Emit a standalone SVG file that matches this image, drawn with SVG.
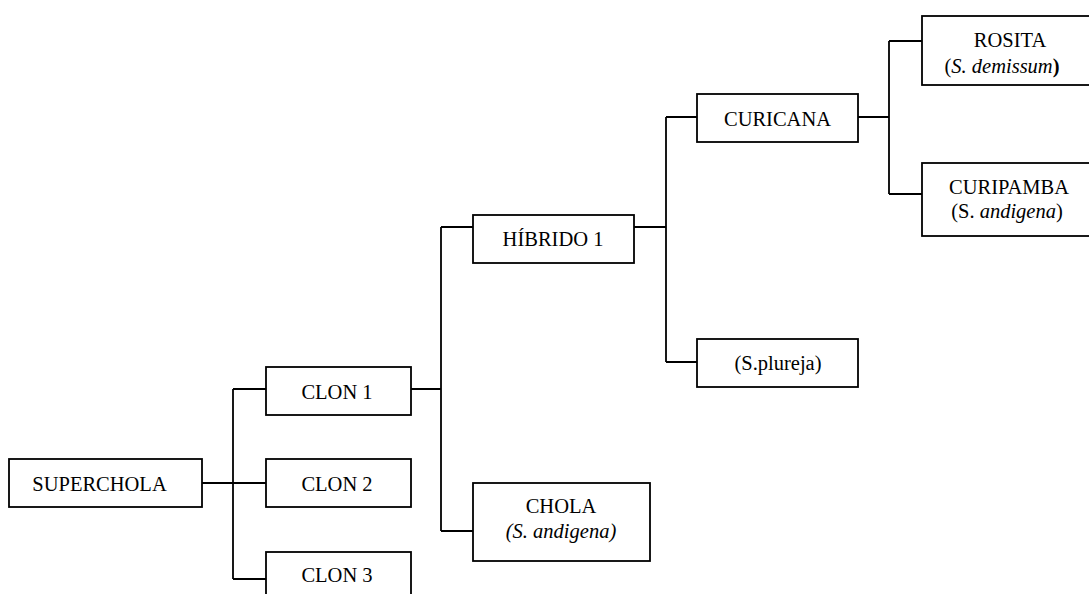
<svg xmlns="http://www.w3.org/2000/svg" width="1089" height="594" viewBox="0 0 1089 594">
<style>
.box{fill:#fff;stroke:#000;stroke-width:1.8}
.t{font-family:"Liberation Serif","Times New Roman",serif;font-size:20.5px;fill:#000;text-anchor:middle}
.i{font-style:italic}
.c{fill:none;stroke:#000;stroke-width:1.8}
</style>
<rect width="1089" height="594" fill="#fff"/>
<g id="connectors">
<path class="c" d="M202,483H266M233,389V579M233,389H266M233,579H266"/>
<path class="c" d="M411,389H441M441,227V531M441,227H473M441,531H473"/>
<path class="c" d="M634,227H666M666,117V362M666,117H697M666,362H697"/>
<path class="c" d="M858,117H889M889,41V194M889,41H922M889,194H922"/>
</g>
<g id="superchola"><rect class="box" x="9" y="459" width="193" height="48"/><text class="t" x="99.5" y="491">SUPERCHOLA</text></g>
<g id="clon1"><rect class="box" x="266" y="367" width="145" height="48"/><text class="t" x="337" y="399">CLON 1</text></g>
<g id="clon2"><rect class="box" x="266" y="459" width="145" height="48"/><text class="t" x="337" y="491">CLON 2</text></g>
<g id="clon3"><rect class="box" x="266" y="552" width="145" height="48"/><text class="t" x="337" y="582">CLON 3</text></g>
<g id="hibrido1"><rect class="box" x="473" y="215" width="161" height="48"/><text class="t" x="553" y="246">HÍBRIDO 1</text></g>
<g id="chola"><rect class="box" x="473" y="483" width="177" height="78"/><text class="t" x="561" y="513">CHOLA</text><text class="t i" x="561" y="538">(S. andigena)</text></g>
<g id="curicana"><rect class="box" x="697" y="94" width="161" height="48"/><text class="t" x="777.5" y="126">CURICANA</text></g>
<g id="splureja"><rect class="box" x="697" y="339" width="161" height="48"/><text class="t" x="778" y="370">(S.plureja)</text></g>
<g id="rosita"><rect class="box" x="922" y="16" width="180" height="69"/><text class="t" x="1010" y="47">ROSITA</text><text class="t" x="1002" y="73">(<tspan class="i">S. demissum</tspan><tspan font-weight="bold">)</tspan></text></g>
<g id="curipamba"><rect class="box" x="922" y="163" width="180" height="73"/><text class="t" x="1009" y="194">CURIPAMBA</text><text class="t" x="1007" y="218">(S. <tspan class="i">andigena</tspan>)</text></g>
</svg>
